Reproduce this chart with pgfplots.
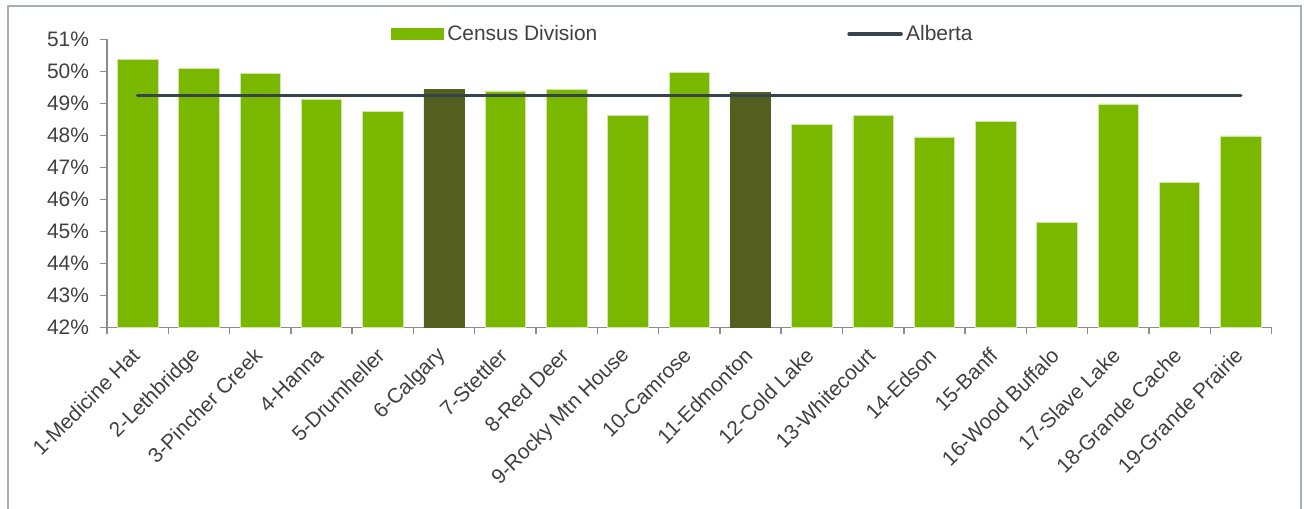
\documentclass[border=0pt]{standalone}
\usepackage{fontspec}
\setmainfont{Liberation Sans}
\usepackage{pgfplots}
\pgfplotsset{compat=1.18}
\definecolor{cdgreen}{HTML}{7AB800}
\definecolor{cddark}{HTML}{545E1F}
\definecolor{abline}{HTML}{37444D}
\definecolor{txt}{HTML}{404040}
\definecolor{axgray}{HTML}{8C8C8C}
\definecolor{framegray}{HTML}{A9AEB1}
\definecolor{baredge}{HTML}{D2E6AA}
\newcommand{\lbl}{\fontsize{15.7}{18.8}\selectfont}
\begin{document}
\begin{tikzpicture}
\path[use as bounding box] (0,0) rectangle (978pt,381pt);
\draw[framegray, line width=1.5pt] (6.2pt,-2pt) -- (6.2pt,376.5pt) -- (975.6pt,376.5pt) -- (975.6pt,-2pt);
\begin{axis}[
  at={(80.25pt,135.5pt)}, anchor=south west,
  scale only axis, width=873.4pt, height=216pt,
  xmin=0.5, xmax=19.5, ymin=42, ymax=51,
  axis x line*=bottom, axis y line*=left,
  axis line style={axgray, line width=1.1pt},
  every tick/.style={axgray, line width=1.1pt},
  tick align=outside, major tick length=5pt,
  ytick={42,43,...,51},
  yticklabel={\pgfmathprintnumber{\tick}\%},
  /pgf/number format/assume math mode=true,
  yticklabel style={font=\lbl, text=txt, xshift=-5pt},
  xtick={0.5,1.5,...,19.5},
  xticklabels={},
  extra x ticks={1,2,...,19},
  extra x tick labels={1-Medicine Hat,2-Lethbridge,3-Pincher Creek,4-Hanna,5-Drumheller,6-Calgary,7-Stettler,8-Red Deer,9-Rocky Mtn House,10-Camrose,11-Edmonton,12-Cold Lake,13-Whitecourt,14-Edson,15-Banff,16-Wood Buffalo,17-Slave Lake,18-Grande Cache,19-Grande Prairie},
  extra x tick style={major tick length=0pt, xticklabel style={font=\lbl, text=txt, xshift=1pt, yshift=-16pt, rotate=45, anchor=east}},
  legend columns=2,
  legend cell align=left,
  legend style={draw=none, fill=none, at={(axis description cs:0.2439,1)}, anchor=west, yshift=4pt,
    inner sep=0pt, font=\lbl, text=txt,
    nodes={inner xsep=2.5pt, inner ysep=0pt},
    /tikz/every even column/.append style={column sep=185pt}},
]
\addplot[ybar, bar width=0.66, bar shift=0pt, fill=cdgreen, draw=baredge, line width=0.5pt,
  legend image code/.code={\fill[cdgreen] (0pt,-4pt) rectangle (39pt,4pt);}]
  coordinates {(1,50.37) (2,50.08) (3,49.93) (4,49.14) (5,48.74) (7,49.39) (8,49.43) (9,48.61) (10,49.97) (12,48.35) (13,48.61) (14,47.95) (15,48.44) (16,45.28) (17,48.98) (18,46.52) (19,47.98)};
\addlegendentry{Census Division}
\addplot[ybar, bar width=0.66, bar shift=0pt, fill=cddark, draw=cddark, line width=0.5pt, forget plot]
  coordinates {(6,49.43) (11,49.34)};
\addplot[abline, line width=2.6pt, line cap=round, mark=none,
  legend image code/.code={\draw[abline, line width=2.6pt, line cap=round] (0pt,0pt) -- (39pt,0pt);}]
  coordinates {(1,49.25) (2,49.25) (3,49.25) (4,49.25) (5,49.25) (6,49.25) (7,49.25) (8,49.25) (9,49.25) (10,49.25) (11,49.25) (12,49.25) (13,49.25) (14,49.25) (15,49.25) (16,49.25) (17,49.25) (18,49.25) (19,49.25)};
\addlegendentry{Alberta}
\end{axis}
\end{tikzpicture}
\end{document}
